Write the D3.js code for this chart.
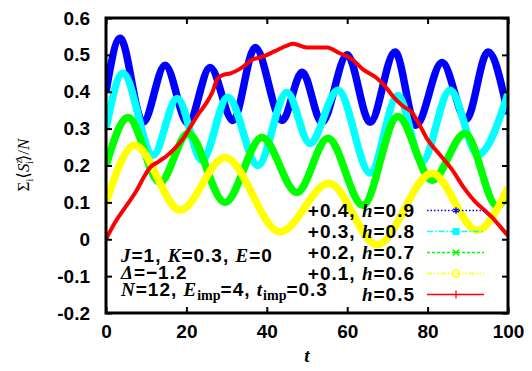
<!DOCTYPE html>
<html>
<head>
<meta charset="utf-8">
<script src="https://cdn.jsdelivr.net/npm/d3@7/dist/d3.min.js"></script>
<style>
  body { margin: 0; background: #fff; }
  .sans { font-family: "Liberation Sans", Arial, sans-serif; font-weight: bold; }
  .ital { font-family: "Liberation Serif", "Times New Roman", serif; font-style: italic; font-weight: bold; }
  .sub { font-family: "Liberation Serif", "Times New Roman", serif; font-style: normal; font-weight: bold; }
</style>
</head>
<body>
<div id="chart"></div>
<script>
// tick values
const tTicks = [0, 20, 40, 60, 80, 100];
const yTicks = [-0.2, -0.1, 0, 0.1, 0.2, 0.3, 0.4, 0.5, 0.6];

// curves: [t, value] (offset already included)
const seriesH09 = [[0,0.40],[3.5,0.545],[9.2,0.317],[14.7,0.472],[20.4,0.314],[25.9,0.466],[31.6,0.322],
  [37.1,0.52],[43.8,0.322],[48.8,0.453],[53.7,0.317],[60,0.50],[65.7,0.317],[71.9,0.508],[77.1,0.309],
  [83.6,0.479],[89.6,0.325],[95,0.508],[100,0.34]];
const seriesH08 = [[0,0.30],[4.2,0.45],[11.7,0.228],[17.7,0.382],[23.9,0.214],[30.3,0.385],[37.8,0.20],
  [45,0.398],[50.7,0.26],[57.7,0.404],[65.7,0.18],[72.6,0.39],[78.6,0.21],[85.6,0.404],[92.5,0.23],[100,0.395]];
const seriesH07 = [[0,0.20],[5.5,0.33],[13.4,0.154],[20.4,0.287],[29.6,0.10],[38.8,0.276],[47.5,0.127],
  [55.2,0.274],[63.9,0.092],[72.6,0.333],[81.1,0.16],[89.3,0.287],[97.3,0.09],[100,0.13]];
const seriesH06 = [[0,0.10],[7.2,0.255],[18.4,0.079],[29.6,0.222],[43.3,0.02],[55.5,0.152],[67.4,-0.015],
  [81.1,0.179],[92.3,0.024],[100,0.14]];
const seriesH05 = [[0,0.0],[2.5,0.05],[5,0.09],[7.5,0.13],[9.5,0.17],[11,0.195],[13,0.21],[15,0.225],
  [17,0.245],[19,0.27],[21,0.305],[23,0.34],[25,0.37],[26.5,0.40],[27.7,0.435],[29,0.445],[31,0.45],
  [33,0.46],[35,0.475],[36,0.485],[39,0.495],[42,0.51],[45,0.525],[46.5,0.53],[50,0.52],[55,0.52],
  [58,0.505],[61,0.49],[64,0.46],[67,0.44],[69,0.42],[72,0.38],[74,0.36],[76,0.345],[78,0.31],
  [80,0.27],[83,0.23],[86,0.19],[89,0.14],[92,0.10],[94,0.08],[96,0.06],[98,0.035],[100,0.01]];

const legendOffsets = ["+0.4, ", "+0.3, ", "+0.2, ", "+0.1, ", ""];
const legendH = ["0.9", "0.8", "0.7", "0.6", "0.5"];

const width = 532, height = 371;
const margin = { top: 18, right: 24, bottom: 58, left: 106 };
const plotW = width - margin.left - margin.right;
const plotH = height - margin.top - margin.bottom;

const svg = d3.select('#chart').append('svg')
  .attr('width', width)
  .attr('height', height);

const x = d3.scaleLinear().domain([0, 100]).range([margin.left, margin.left + plotW]);
const y = d3.scaleLinear().domain([-0.2, 0.6]).range([margin.top + plotH, margin.top]);

const series = [
  { data: seriesH09, color: '#0000ff', w: 7.5, dash: '1.5,2', marker: 'star' },
  { data: seriesH08, color: '#00ffff', w: 7.5, dash: '6,2,1.5,2', marker: 'square' },
  { data: seriesH07, color: '#00ff00', w: 7.5, dash: '3,2', marker: 'cross' },
  { data: seriesH06, color: '#ffff00', w: 7.5, dash: '5,2,1.5,2,1.5,2', marker: 'circle' },
  { data: seriesH05, color: '#ff0000', w: 4, dash: null, marker: 'plus' }
];

// clip
svg.append('clipPath').attr('id', 'clip')
  .append('rect')
  .attr('x', margin.left).attr('y', margin.top)
  .attr('width', plotW).attr('height', plotH);

const line = d3.line()
  .x(d => x(d[0]))
  .y(d => y(d[1]))
  .curve(d3.curveMonotoneX);

const curves = svg.append('g').attr('clip-path', 'url(#clip)');
series.forEach(s => {
  curves.append('path')
    .datum(s.data)
    .attr('fill', 'none')
    .attr('stroke', s.color)
    .attr('stroke-width', s.w)
    .attr('stroke-linejoin', 'round')
    .attr('d', line);
});

// axes with inward ticks
const yAxis = svg.append('g')
  .attr('transform', `translate(${margin.left},0)`)
  .call(d3.axisLeft(y).tickValues(yTicks).tickSize(-6).tickPadding(16).tickFormat(d => String(d)));
const yAxisR = svg.append('g')
  .attr('transform', `translate(${margin.left + plotW},0)`)
  .call(d3.axisRight(y).tickValues(yTicks).tickSize(-6).tickFormat(''));
const xAxis = svg.append('g')
  .attr('transform', `translate(0,${margin.top + plotH})`)
  .call(d3.axisBottom(x).tickValues(tTicks).tickSize(-6).tickPadding(12).tickFormat(d => String(d)));
const xAxisT = svg.append('g')
  .attr('transform', `translate(0,${margin.top})`)
  .call(d3.axisTop(x).tickValues(tTicks).tickSize(-6).tickFormat(''));

[yAxis, yAxisR, xAxis, xAxisT].forEach(a => {
  a.select('.domain').remove();
  a.selectAll('line').attr('stroke', '#000').attr('stroke-width', 2);
  a.selectAll('text')
    .attr('class', 'sans')
    .attr('font-size', 19)
    .attr('fill', '#000');
});

// frame
svg.append('rect')
  .attr('x', margin.left).attr('y', margin.top)
  .attr('width', plotW).attr('height', plotH)
  .attr('fill', 'none')
  .attr('stroke', '#000')
  .attr('stroke-width', 3);

// legend
const legX = 415, legY0 = 210.5, legDy = 21;
series.forEach((s, i) => {
  const cy = legY0 + i * legDy;
  const t = svg.append('text')
    .attr('x', legX).attr('y', cy + 6.5)
    .attr('text-anchor', 'end')
    .attr('font-size', 19)
    .attr('letter-spacing', 1);
  t.append('tspan').attr('class', 'sans').text(legendOffsets[i]);
  t.append('tspan').attr('class', 'ital').text('h');
  t.append('tspan').attr('class', 'sans').text('=' + legendH[i]);

  const l = svg.append('line')
    .attr('x1', 427).attr('x2', 484)
    .attr('y1', cy).attr('y2', cy)
    .attr('stroke', s.color)
    .attr('stroke-width', 1.5);
  if (s.dash) l.attr('stroke-dasharray', s.dash);

  const mx = 456;
  const g = svg.append('g').attr('transform', `translate(${mx},${cy})`);
  if (s.marker === 'star') {
    g.append('path').attr('d', d3.symbol(d3.symbolAsterisk, 30)()).attr('stroke', s.color).attr('stroke-width', 1.5);
  } else if (s.marker === 'square') {
    g.append('rect').attr('x', -3.5).attr('y', -3.5).attr('width', 7).attr('height', 7).attr('fill', s.color);
  } else if (s.marker === 'cross') {
    g.append('path').attr('d', 'M-3,-3L3,3M-3,3L3,-3').attr('stroke', s.color).attr('stroke-width', 1.5);
  } else if (s.marker === 'circle') {
    g.append('circle').attr('r', 3.5).attr('fill', 'none').attr('stroke', s.color).attr('stroke-width', 1.5);
  } else {
    g.append('path').attr('d', 'M0,-4L0,4M-4,0L4,0').attr('stroke', s.color).attr('stroke-width', 1.2);
  }
});

// parameter annotation
const ann = svg.append('g').attr('font-size', 19).attr('letter-spacing', 1);
const a1 = ann.append('text').attr('x', 121).attr('y', 262);
a1.append('tspan').attr('class', 'ital').text('J');
a1.append('tspan').attr('class', 'sans').text('=1, ');
a1.append('tspan').attr('class', 'ital').text('K');
a1.append('tspan').attr('class', 'sans').text('=0.3, ');
a1.append('tspan').attr('class', 'ital').text('E');
a1.append('tspan').attr('class', 'sans').text('=0');

const a2 = ann.append('text').attr('x', 121).attr('y', 279);
a2.append('tspan').attr('class', 'ital').text('\u0394');
a2.append('tspan').attr('class', 'sans').text('=\u22121.2');

const a3 = ann.append('text').attr('x', 121).attr('y', 296);
a3.append('tspan').attr('class', 'ital').text('N');
a3.append('tspan').attr('class', 'sans').text('=12, ');
a3.append('tspan').attr('class', 'ital').text('E');
a3.append('tspan').attr('class', 'sub').attr('font-size', 14).attr('letter-spacing', 0).attr('dy', 4).text('imp');
a3.append('tspan').attr('class', 'sans').attr('dy', -4).text('=4, ');
a3.append('tspan').attr('class', 'ital').text('t');
a3.append('tspan').attr('class', 'sub').attr('font-size', 14).attr('letter-spacing', 0).attr('dy', 4).text('imp');
a3.append('tspan').attr('class', 'sans').attr('dy', -4).text('=0.3');

// axis titles
svg.append('text')
  .attr('class', 'ital')
  .attr('x', 307).attr('y', 362)
  .attr('text-anchor', 'middle')
  .attr('font-size', 19)
  .text('t');

const yl = svg.append('text')
  .attr('transform', 'translate(29,165) rotate(-90)')
  .attr('text-anchor', 'middle')
  .attr('font-family', '"Liberation Serif", "DejaVu Serif", serif')
  .attr('font-size', 17);
yl.append('tspan').text('\u03a3');
yl.append('tspan').attr('font-size', 10).attr('dy', 4).text('i');
yl.append('tspan').attr('dy', -4).text('\u27e8');
yl.append('tspan').attr('font-style', 'italic').text('S');
yl.append('tspan').attr('font-size', 10).attr('dy', -7).text('z');
yl.append('tspan').attr('font-size', 10).attr('dx', -5).attr('dy', 11).text('i');
yl.append('tspan').attr('dy', -4).text('\u27e9/');
yl.append('tspan').attr('font-style', 'italic').text('N');
</script>
</body>
</html>
